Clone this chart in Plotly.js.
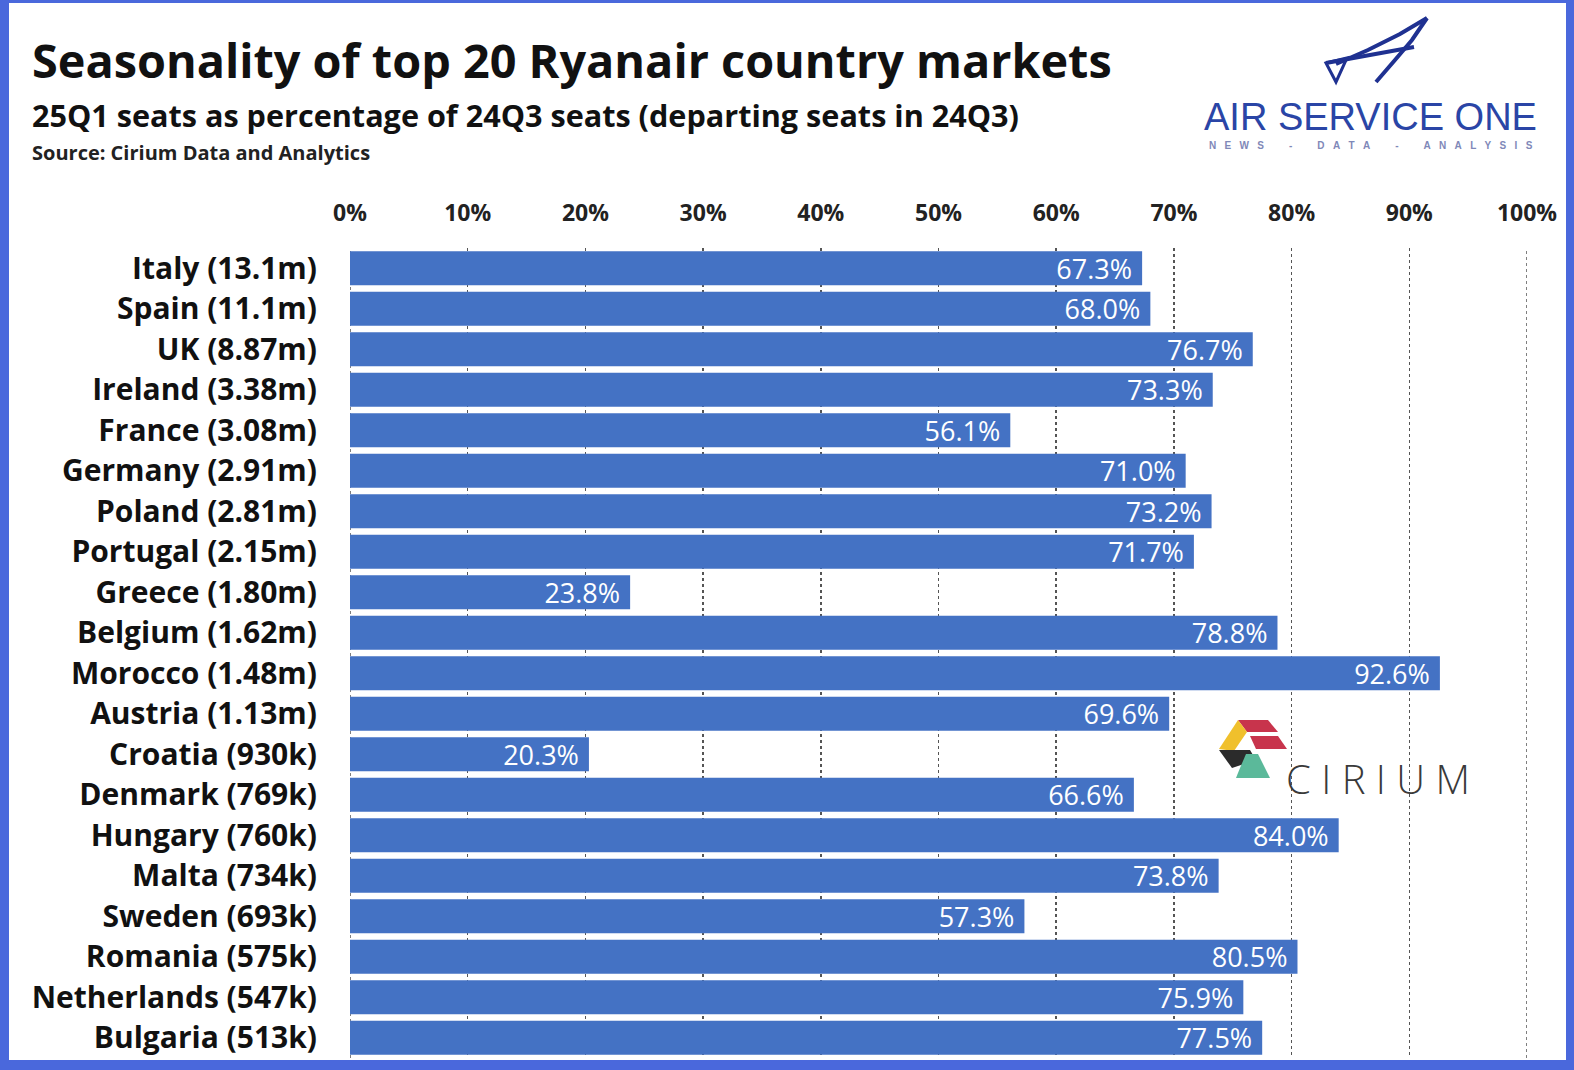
<!DOCTYPE html>
<html>
<head>
<meta charset="utf-8">
<script src="https://cdn.plot.ly/plotly-3.0.1.min.js"></script>
<style>html,body{margin:0;padding:0;background:#fff;}#chart{width:1574px;height:1070px;}</style>
</head>
<body>
<div id="chart"></div>
<script>
// ---- data ----
const countries = ['Italy','Spain','UK','Ireland','France','Germany','Poland','Portugal','Greece','Belgium','Morocco','Austria','Croatia','Denmark','Hungary','Malta','Sweden','Romania','Netherlands','Bulgaria'];
const seats24Q3 = ['13.1m','11.1m','8.87m','3.38m','3.08m','2.91m','2.81m','2.15m','1.80m','1.62m','1.48m','1.13m','930k','769k','760k','734k','693k','575k','547k','513k'];
const sharePct = [67.3,68.0,76.7,73.3,56.1,71.0,73.2,71.7,23.8,78.8,92.6,69.6,20.3,66.6,84.0,73.8,57.3,80.5,75.9,77.5];
const xTickVals = [0,10,20,30,40,50,60,70,80,90,100];
const xTickText = ['0%','10%','20%','30%','40%','50%','60%','70%','80%','90%','100%'];

const catLabels = countries.map((c,i)=> c + ' (' + seats24Q3[i] + ')');

// ---- geometry helpers (figure px -> paper) ----
const W=1574, H=1070, L=350, R=47, T=248, B=12;
const PW=W-L-R, PH=H-T-B;
const px = x => (x-L)/PW;
const py = y => 1-(y-T)/PH;
const pth = pts => pts.map((p,i)=>(i?'L':'M')+px(p[0]).toFixed(5)+','+py(p[1]).toFixed(5)).join(' ')+' Z';
const pline = pts => pts.map((p,i)=>(i?'L':'M')+px(p[0]).toFixed(5)+','+py(p[1]).toFixed(5)).join(' ');

const FONT = '"Open Sans", Lato, sans-serif';
const BORDER = '#4a68dc';
const NB = '\u00A0';
const GRID = {color:'#555', width:1.5, dash:'dot'};

const trace = {
  type:'bar', orientation:'h',
  x: sharePct, y: catLabels,
  marker:{color:'#4472c4', line:{width:0}},
  texttemplate:'%{x:.1f}%'+NB,
  textposition:'inside', insidetextanchor:'end',
  constraintext:'none',
  textfont:{family:FONT, size:27, color:'#ffffff'},
  hoverinfo:'skip', cliponaxis:false
};

const rect = (x0,y0,x1,y1,color) => ({type:'rect', xref:'paper', yref:'paper', x0:px(x0), x1:px(x1), y0:py(y0), y1:py(y1), fillcolor:color, line:{width:0}, layer:'above'});

const shapes = [
  // edge gridlines (0% and 100%)
  {type:'line', xref:'x', yref:'paper', x0:xTickVals[0], x1:xTickVals[0], y0:0, y1:1, line:GRID, layer:'below'},
  {type:'line', xref:'x', yref:'paper', x0:xTickVals[10], x1:xTickVals[10], y0:0, y1:1, line:GRID, layer:'below'},
  rect(0,0,9,1070,BORDER),
  rect(0,0,1574,3,BORDER),
  rect(1566,0,1574,1070,BORDER),
  rect(0,1060,1574,1070,BORDER),
  // Air Service One "A" mark
  {type:'path', xref:'paper', yref:'paper', path:pline([[1427,18],[1400,34],[1368,50],[1336,64]]), line:{color:'#1f3191', width:4}},
  {type:'path', xref:'paper', yref:'paper', path:pline([[1427,18],[1412,40],[1395,60],[1376,82]]), line:{color:'#1f3191', width:4}},
  {type:'path', xref:'paper', yref:'paper', path:pline([[1326,63],[1370,55],[1414,47]]), line:{color:'#1f3191', width:4}},
  {type:'path', xref:'paper', yref:'paper', path:pth([[1326,63],[1347,58],[1336,82]]), line:{color:'#1f3191', width:3}, fillcolor:'rgba(0,0,0,0)'},
  // Cirium mark
  {type:'path', xref:'paper', yref:'paper', path:pth([[1238,720],[1268,720],[1278,732],[1247,732]]), fillcolor:'#c8344c', line:{width:0}},
  {type:'path', xref:'paper', yref:'paper', path:pth([[1250,736],[1278,736],[1287,749],[1256,749]]), fillcolor:'#c8344c', line:{width:0}},
  {type:'path', xref:'paper', yref:'paper', path:pth([[1238,720],[1247,732],[1234,751],[1219,749]]), fillcolor:'#f0c02c', line:{width:0}},
  {type:'path', xref:'paper', yref:'paper', path:pth([[1219,750],[1250,750],[1256,760],[1232,768]]), fillcolor:'#2b2b2b', line:{width:0}},
  {type:'path', xref:'paper', yref:'paper', path:pth([[1246,754],[1258,754],[1270,778],[1236,778],[1240,768]]), fillcolor:'#5bb99a', line:{width:0}}
];

const ann = (x,y,text,size,opts={}) => Object.assign({xref:'paper', yref:'paper', x:px(x), y:py(y), text:text, showarrow:false, xanchor:'left', yanchor:'middle', font:{family:FONT, size:size, color:'#111'}}, opts);

const spaced = (s, gap, spaceGap) => s.split('').map(ch => ch===' ' ? NB.repeat(spaceGap) : ch).join(NB.repeat(gap));

const annotations = [
  ann(30,60,'<b>Seasonality of top 20 Ryanair country markets</b>',46.8),
  ann(30,115,'<b>25Q1 seats as percentage of 24Q3 seats (departing seats in 24Q3)</b>',30.6),
  ann(30,152,'<b>Source: Cirium Data and Analytics</b>',20,{font:{family:FONT,size:20,color:'#222'}}),
  ann(1370,117,'AIR SERVICE ONE',38,{xanchor:'center', font:{family:'"Liberation Sans", Arial, sans-serif', size:38, color:'#2a45a6'}}),
  ann(1371,145,spaced('NEWS - DATA - ANALYSIS',3,3),10,{xanchor:'center', font:{family:'"Liberation Sans", Arial, sans-serif', size:10, color:'#7f88b8', weight:'bold'}}),
  ann(1378,778,spaced('CIRIUM',1,1),40,{xanchor:'center', font:{family:FONT, size:40, color:'#3a3a3a', weight:300}})
];

const layout = {
  width:W, height:H,
  margin:{l:L, r:R, t:T, b:B, pad:0},
  paper_bgcolor:'#ffffff', plot_bgcolor:'#ffffff',
  showlegend:false,
  bargap:0.16,
  font:{family:FONT, color:'#111'},
  xaxis:{
    side:'top', range:[0,100], tickvals:xTickVals, ticktext:xTickText,
    showgrid:true, gridcolor:GRID.color, griddash:GRID.dash, gridwidth:GRID.width,
    zeroline:false, showline:false, ticks:'',
    tickfont:{family:FONT, size:23, color:'#222', weight:'bold'},
    ticklabelstandoff:21, fixedrange:true
  },
  yaxis:{
    autorange:'reversed', type:'category',
    showgrid:false, zeroline:false, showline:false, ticks:'',
    tickfont:{family:FONT, size:30, color:'#111', weight:'bold'},
    ticklabelstandoff:32, fixedrange:true
  },
  shapes:shapes,
  annotations:annotations
};

Plotly.newPlot('chart',[trace],layout,{displayModeBar:false, staticPlot:true});
</script>
</body>
</html>
